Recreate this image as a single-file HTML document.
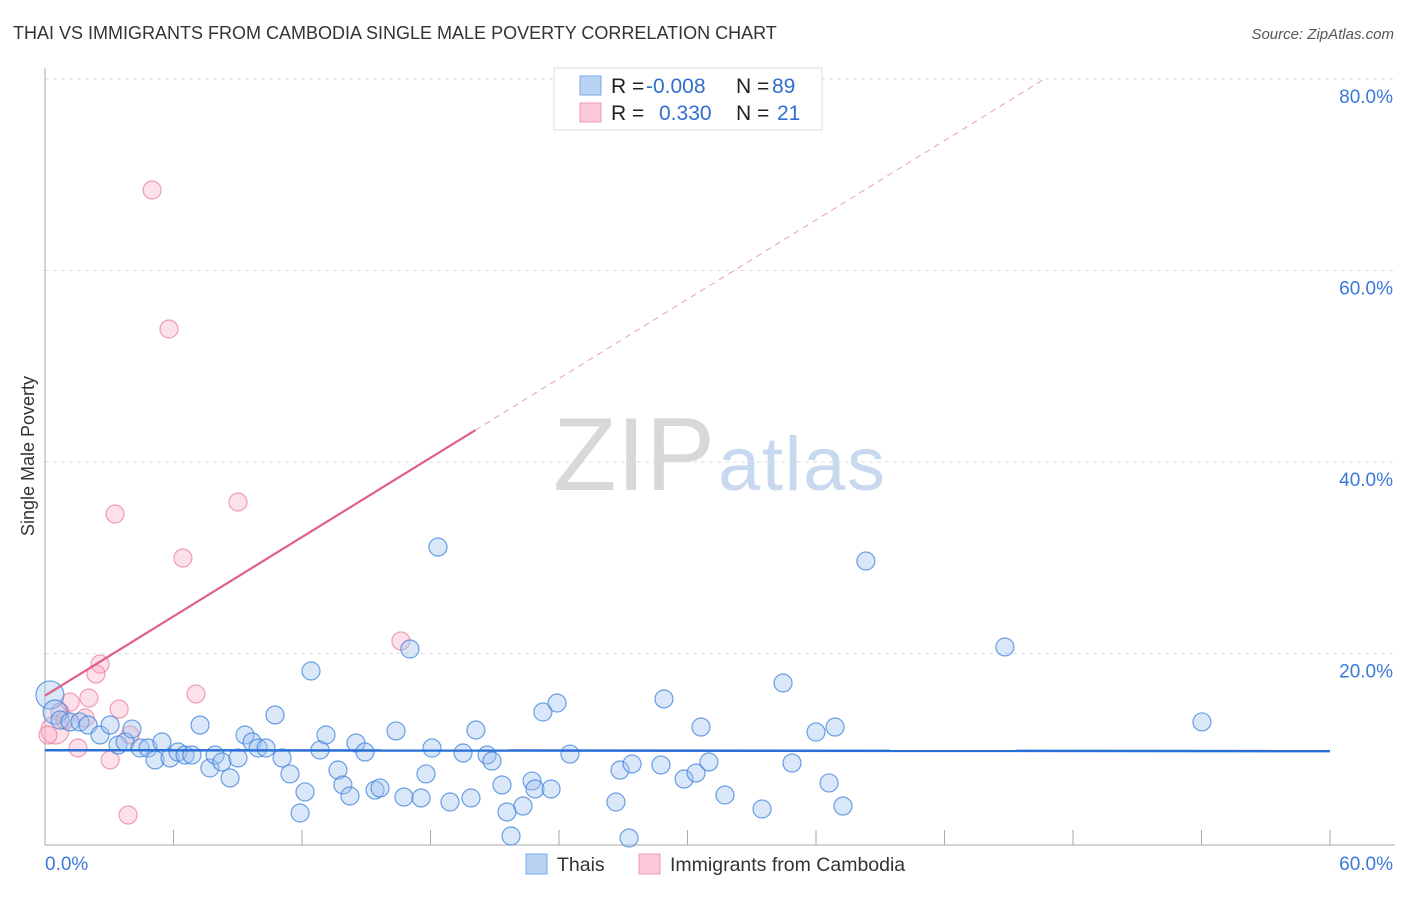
<!DOCTYPE html>
<html><head><meta charset="utf-8"><style>
body{margin:0;background:#fff;font-family:"Liberation Sans",sans-serif;}
svg text{font-family:"Liberation Sans",sans-serif;}
</style></head><body>
<svg id="chart" width="1406" height="892" xmlns="http://www.w3.org/2000/svg">
<text x="13" y="39" font-size="18" fill="#333">THAI VS IMMIGRANTS FROM CAMBODIA SINGLE MALE POVERTY CORRELATION CHART</text>
<text x="1394" y="39" font-size="15" fill="#555" text-anchor="end" font-style="italic">Source: ZipAtlas.com</text>
<g>
<text x="553" y="490" font-size="104" fill="#d8d8d8" font-family="Liberation Serif, serif" textLength="162">ZIP</text>
<text x="718" y="490" font-size="76" fill="#c8d8ee" textLength="167">atlas</text>
</g>
<g id="grid"></g>
<g id="axes"></g>
<g id="marks"></g>
<text transform="translate(34,456) rotate(-90)" font-size="18" fill="#333" text-anchor="middle">Single Male Poverty</text>
<g>
<rect x="554" y="68" width="268" height="62" fill="#fff" stroke="#ddd"/>
<rect x="580" y="76" width="21" height="19" fill="#b9d3f5" stroke="#7aa7e6"/>
<rect x="580" y="103" width="21" height="19" fill="#fcc8d7" stroke="#ef9ab3"/>
<text x="611" y="93" font-size="21" fill="#222">R = <tspan x="646" fill="#2f6fd1">-0.008</tspan><tspan x="736">N = </tspan><tspan x="772" fill="#2f6fd1">89</tspan></text>
<text x="611" y="120" font-size="21" fill="#222">R = <tspan x="659" fill="#2f6fd1">0.330</tspan><tspan x="736">N = </tspan><tspan x="777" fill="#2f6fd1">21</tspan></text>
</g>
<g>
<rect x="526" y="854" width="21" height="20" fill="#b9d3f5" stroke="#7aa7e6"/>
<text x="557" y="871" font-size="19.5" fill="#333">Thais</text>
<rect x="639" y="854" width="21" height="20" fill="#fcc8d7" stroke="#ef9ab3"/>
<text x="670" y="871" font-size="19.5" fill="#333">Immigrants from Cambodia</text>
</g>
</svg>
<script>
const blueX=[0.23,0.47,0.70,1.17,1.63,2.01,2.57,3.04,3.41,3.74,4.06,4.44,4.81,5.14,5.46,5.84,6.21,6.54,6.86,7.24,7.70,7.94,8.26,8.64,9.01,9.34,9.67,9.95,10.32,10.74,11.07,11.44,12.14,11.91,12.42,12.84,13.12,13.68,13.91,14.24,14.52,14.94,15.41,15.64,16.39,16.76,17.04,17.56,17.79,18.07,18.35,18.91,19.52,19.89,20.12,20.64,20.87,21.34,21.57,21.76,22.32,22.74,22.88,23.25,23.63,23.91,24.51,26.66,26.85,27.27,27.41,28.76,28.90,29.84,30.40,30.63,31.00,31.75,33.48,34.46,34.88,36.00,36.61,36.89,37.26,38.33,44.82,54.02];
const blueY=[15.67,13.89,13.05,12.85,12.85,12.53,11.49,12.53,10.44,10.76,12.11,10.13,10.13,8.88,10.76,9.09,9.71,9.40,9.40,12.53,8.04,9.40,8.67,7.00,9.09,11.49,10.76,10.13,10.13,13.58,9.09,7.42,5.54,3.34,18.17,9.92,11.49,7.83,6.27,5.12,10.65,9.71,5.74,5.95,11.91,5.01,20.47,4.91,7.42,10.13,31.12,4.49,9.61,4.91,12.01,9.40,8.77,6.27,3.45,0.94,4.07,6.68,5.85,13.89,5.85,14.83,9.50,4.49,7.83,0.73,8.46,8.36,15.25,6.89,7.52,12.32,8.67,5.22,3.76,16.92,8.56,11.80,6.48,12.32,4.07,29.66,20.68,12.85];
const pinkX=[5.00,5.79,9.01,3.27,6.44,16.62,2.57,2.38,7.05,2.05,1.17,3.46,0.70,3.97,1.54,3.04,3.88,0.47,0.93,0.14,1.87];
const pinkY=[68.41,53.89,35.82,34.57,29.97,21.31,18.90,17.86,15.77,15.35,14.93,14.20,13.89,11.49,10.13,8.88,3.13,12.01,13.05,11.49,13.26];
const yTicks=[20,40,60,80];
const xTickLabels=["0.0%","60.0%"];
const blueTrend=[9.9,9.8];
const pinkTrend=[15.6,1.38];
const pinkSolidEnd=20.1;
const X=v=>45+v/60*1285, Y=v=>845-v*9.575;
const NS="http://www.w3.org/2000/svg";
function mk(tag,attrs,parent){const e=document.createElementNS(NS,tag);for(const k in attrs)e.setAttribute(k,attrs[k]);document.getElementById(parent).appendChild(e);return e;}
yTicks.forEach(t=>{
 const l=mk('line',{x1:45,x2:1395,y1:Y(t),y2:Y(t),stroke:'#ddd','stroke-dasharray':'4,4'},'grid');
 
 
 const tx=mk('text',{x:1393,y:Y(t)+24,'font-size':19,fill:'#3b78d8','text-anchor':'end'},'grid');
 tx.textContent=t.toFixed(1)+'%';
 
 
});
let ax=mk('line',{x1:45,x2:45,y1:68,y2:845,stroke:'#aaa'},'axes');


ax=mk('line',{x1:45,x2:1395,y1:845,y2:845,stroke:'#aaa'},'axes');


for(let i=1;i<=10;i++){const t=mk('line',{x1:X(i*6),x2:X(i*6),y1:830,y2:845,stroke:'#aaa'},'axes');
 
 }
[[0,xTickLabels[0],'start',45],[60,xTickLabels[1],'end',1393]].forEach(a=>{const t=mk('text',{x:a[3],y:870,'font-size':19,fill:'#3b78d8','text-anchor':a[2]},'axes');t.textContent=a[1];
 
 });
function rad(i,isBlue){if(isBlue)return i==0?14:(i==1?12:9);return i==17?14:9;}
pinkX.forEach((v,i)=>{const c=mk('circle',{cx:X(v),cy:Y(pinkY[i]),r:rad(i,false),fill:'rgba(248,170,195,0.35)',stroke:'rgba(232,120,155,0.7)','stroke-width':1.2},'marks');
 
 });
blueX.forEach((v,i)=>{const c=mk('circle',{cx:X(v),cy:Y(blueY[i]),r:rad(i,true),fill:'rgba(160,195,240,0.4)',stroke:'rgba(60,130,220,0.75)','stroke-width':1.2},'marks');
 
 });
let tl=mk('line',{x1:X(0),x2:X(60),y1:Y(blueTrend[0]),y2:Y(blueTrend[1]),stroke:'#2a6fd6','stroke-width':2.5},'marks');


const pf=x=>pinkTrend[0]+pinkTrend[1]*x;
const endX=(80-pinkTrend[0])/pinkTrend[1];
tl=mk('line',{x1:X(0),x2:X(pinkSolidEnd),y1:Y(pf(0)),y2:Y(pf(pinkSolidEnd)),stroke:'#e0608a','stroke-width':2.2},'marks');


tl=mk('line',{x1:X(pinkSolidEnd),x2:X(endX),y1:Y(pf(pinkSolidEnd)),y2:Y(80),stroke:'#e8a0b5','stroke-width':1,'stroke-dasharray':'6,5'},'marks');


</script>
</body></html>
